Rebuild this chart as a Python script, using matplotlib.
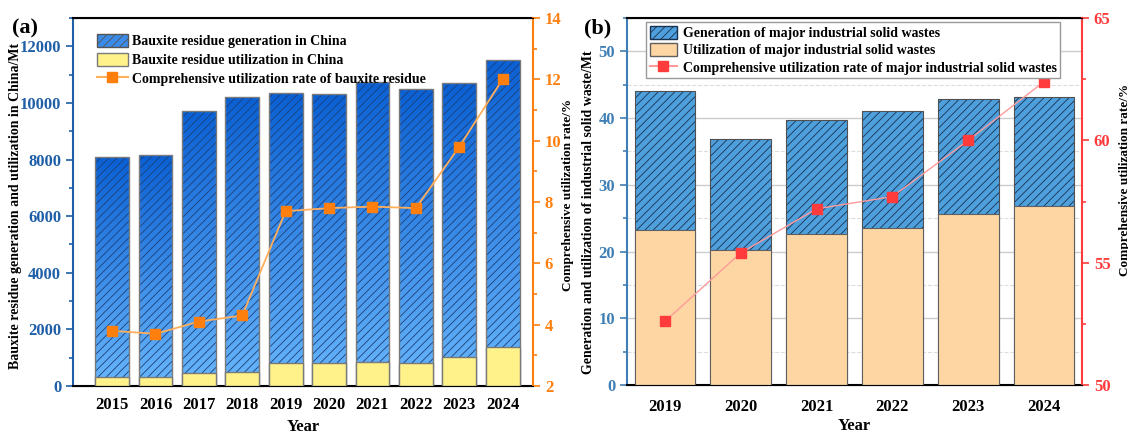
import numpy as np
import matplotlib.pyplot as plt
from matplotlib.colors import LinearSegmentedColormap
from matplotlib.patches import Patch
from matplotlib.lines import Line2D
from matplotlib.ticker import MultipleLocator

plt.rcParams['font.family'] = ['Liberation Serif', 'DejaVu Serif']
plt.rcParams['font.weight'] = 'bold'
plt.rcParams['axes.labelweight'] = 'bold'
plt.rcParams['hatch.linewidth'] = 0.6

# panel (a) data
years_a = ['2015', '2016', '2017', '2018', '2019', '2020', '2021', '2022', '2023', '2024']
gen_a = [8080, 8150, 9700, 10200, 10350, 10300, 10750, 10500, 10700, 11500]
use_a = [330, 330, 450, 500, 800, 810, 840, 810, 1040, 1380]
rate_a = [3.8, 3.7, 4.1, 4.3, 7.7, 7.8, 7.85, 7.8, 9.8, 12.0]

# panel (b) data
years_b = ['2019', '2020', '2021', '2022', '2023', '2024']
gen_b = [44.1, 36.9, 39.7, 41.1, 42.8, 43.1]
use_b = [23.2, 20.3, 22.7, 23.6, 25.7, 26.9]
rate_b = [52.6, 55.4, 57.2, 57.7, 60.0, 62.4]

blue_a = '#1f5fa8'
orange = '#ff7f0e'
blue_b = '#3f7fb5'
red = '#ff3b3b'

fig = plt.figure(figsize=(11.28, 4.33), dpi=100)

# ---------------- panel (a) ----------------
ax = fig.add_axes([73/1128, 1-386/433, (533-73)/1128, (386-18)/433])
x = np.arange(len(years_a))
w = 0.78
cmap = LinearSegmentedColormap.from_list('bl', ['#68b6fb', '#0a60d4'])
grad = np.linspace(0, 1, 256).reshape(-1, 1)
bars = ax.bar(x, gen_a, w, color='none', edgecolor='none', zorder=2)
for b in bars:
    im = ax.imshow(grad, cmap=cmap, origin='lower', aspect='auto', zorder=2,
                   extent=[b.get_x(), b.get_x()+b.get_width(), 0, b.get_height()])
    im.set_clip_path(b)
ax.bar(x, gen_a, w, fill=False, hatch='////', edgecolor='#1d3f78', linewidth=0, zorder=3)
ax.bar(x, gen_a, w, fill=False, edgecolor='#7a7a7a', linewidth=1.0, zorder=3.5)
ax.bar(x, use_a, w, color='#fff28a', edgecolor='#7a7a7a', linewidth=1.0, zorder=4)
ax.set_xlim(-0.9, 9.7)
ax.set_ylim(0, 13000)
ax.set_xticks(x)
ax.set_xticklabels(years_a)
ax.tick_params(axis='x', length=0, labelsize=12, pad=8)
ax.set_yticks(range(0, 13000, 2000))
ax.yaxis.set_minor_locator(MultipleLocator(1000))
ax.tick_params(axis='y', which='both', colors=blue_a, direction='out', width=1.2, labelsize=12)
ax.tick_params(axis='y', which='major', length=5)
ax.tick_params(axis='y', which='minor', length=3)
ax.spines['left'].set_color(blue_a)
ax.spines['right'].set_visible(False)
for s in ax.spines.values():
    s.set_linewidth(1.5)
ax.set_xlabel('Year', fontsize=12, labelpad=4)
ax.set_ylabel('Bauxite residue generation and utilization in China/Mt', fontsize=10)
ax.yaxis.set_label_coords(-0.111, 0.49)

ax2 = ax.twinx()
ax2.plot(x, rate_a, color='#ffae5c', lw=1.3, marker='s', ms=7, mfc=orange, mec=orange)
ax2.set_ylim(2, 14)
ax2.set_yticks(range(2, 15, 2))
ax2.yaxis.set_minor_locator(MultipleLocator(1))
ax2.tick_params(axis='y', which='both', colors=orange, direction='out', width=1.2, labelsize=12)
ax2.tick_params(axis='y', which='major', length=5)
ax2.tick_params(axis='y', which='minor', length=3)
ax2.spines['right'].set_color(orange)
ax2.spines['right'].set_linewidth(1.5)
ax2.spines['left'].set_visible(False)
ax2.set_ylabel('Comprehensive utilization rate/%', fontsize=9.5, color='black')
ax2.yaxis.set_label_coords(1.064, 0.52)

h_a = [Patch(facecolor='#3b8cea', edgecolor='#555555', hatch='////'),
       Patch(facecolor='#fff28a', edgecolor='#7a7a7a'),
       Line2D([], [], color='#ffae5c', marker='s', mfc=orange, mec=orange, ms=7)]
ax2.legend(h_a, ['Bauxite residue generation in China', 'Bauxite residue utilization in China',
                 'Comprehensive utilization rate of bauxite residue'],
           loc='upper left', bbox_to_anchor=(0.040, 0.972), frameon=False,
           prop={'size': 10, 'weight': 'bold'}, handlelength=2.2, handleheight=1.1,
           handletextpad=0.3, labelspacing=0.33, borderaxespad=0)

# ---------------- panel (b) ----------------
bx = fig.add_axes([627/1128, 1-385/433, (1082-627)/1128, (385-18)/433])
xb = np.arange(len(years_b))
bx.set_axisbelow(True)
bx.bar(xb, gen_b, 0.8, color='#4ea0dd', edgecolor='none', linewidth=0, zorder=2)
bx.bar(xb, gen_b, 0.8, fill=False, hatch='////', edgecolor='#1a3050', linewidth=0, zorder=2.2)
bx.bar(xb, gen_b, 0.8, fill=False, edgecolor='#505050', linewidth=0.8, zorder=2.4)
bx.bar(xb, use_b, 0.8, color='#fdd6a3', edgecolor='#606060', linewidth=0.8, zorder=3)
bx.set_xlim(-0.5, 5.5)
bx.set_ylim(0, 55)
bx.set_xticks(xb)
bx.set_xticklabels(years_b)
bx.tick_params(axis='x', direction='in', length=6, width=1.2, colors='#333333', labelsize=12, pad=10)
for t in bx.get_xticklabels():
    t.set_color('black')
bx.set_yticks(range(0, 51, 10))
bx.yaxis.set_minor_locator(MultipleLocator(5))
bx.tick_params(axis='y', which='both', colors=blue_b, direction='out', width=1.2, labelsize=12)
bx.tick_params(axis='y', which='major', length=5)
bx.tick_params(axis='y', which='minor', length=3)
bx.grid(axis='y', which='major', color='#cccccc', lw=1)
bx.grid(axis='y', which='minor', color='#dddddd', lw=0.8, ls='--')
bx.spines['left'].set_color(blue_b)
bx.spines['right'].set_visible(False)
for s in bx.spines.values():
    s.set_linewidth(1.5)
bx.set_xlabel('Year', fontsize=12, labelpad=2)
bx.set_ylabel('Generation and utilization of industrial solid waste/Mt', fontsize=10)
bx.yaxis.set_label_coords(-0.0705, 0.47)

bx2 = bx.twinx()
bx2.plot(xb, rate_b, color='#ff9a9a', lw=1.0, marker='s', ms=7, mfc=red, mec=red)
bx2.set_ylim(50, 65)
bx2.set_yticks([50, 55, 60, 65])
bx2.yaxis.set_minor_locator(MultipleLocator(2.5))
bx2.tick_params(axis='y', which='both', colors=red, direction='out', width=1.2, labelsize=12)
bx2.tick_params(axis='y', which='major', length=5)
bx2.tick_params(axis='y', which='minor', length=3)
bx2.spines['right'].set_color(red)
bx2.spines['right'].set_linewidth(1.5)
bx2.spines['left'].set_visible(False)
bx2.set_ylabel('Comprehensive utilization rate/%', fontsize=9.5, color='black')
bx2.yaxis.set_label_coords(1.081, 0.56)

h_b = [Patch(facecolor='#4ea0dd', edgecolor='#1a3050', hatch='////'),
       Patch(facecolor='#fdd6a3', edgecolor='#606060'),
       Line2D([], [], color='#ff9a9a', marker='s', mfc=red, mec=red, ms=7)]
leg = bx2.legend(h_b, ['Generation of major industrial solid wastes', 'Utilization of major industrial solid wastes',
                       'Comprehensive utilization rate of major industrial solid wastes'],
                 loc='upper left', bbox_to_anchor=(0.042, 0.989), frameon=True, fancybox=False,
                 edgecolor='#999999', framealpha=1, prop={'size': 10, 'weight': 'bold'},
                 handlelength=2.0, handleheight=1.1, handletextpad=0.4, labelspacing=0.22,
                 borderaxespad=0, borderpad=0.25)
leg.get_frame().set_linewidth(1.0)

fig.text(12/1128, 1-28/433, '(a)', fontsize=16, fontweight='bold', va='center')
fig.text(584/1128, 1-28/433, '(b)', fontsize=16, fontweight='bold', va='center')

fig.savefig('out.png', dpi=100)
